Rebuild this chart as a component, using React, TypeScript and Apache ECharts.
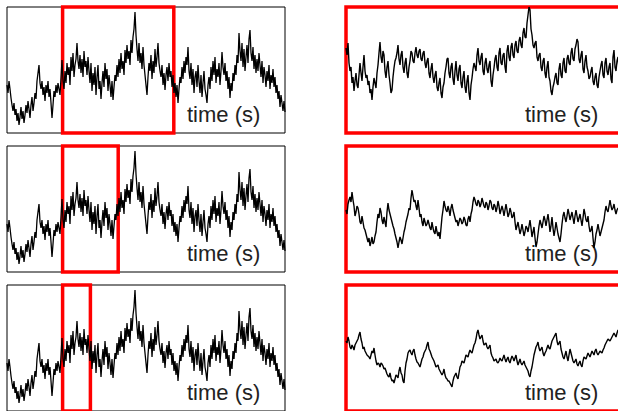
import React, { useEffect, useRef } from "react";
import * as echarts from "echarts";

// Full recording (shown in all three left panels)
const fullSignal = [
  48, 40, 52, 44, 35, 28, 22, 30, 18, 24,
  12, 20, 8, 16, 26, 14, 22, 10, 18, 28,
  20, 32, 24, 15, 28, 36, 22, 30, 40, 34,
  52, 60, 68, 50, 44, 52, 38, 46, 32, 48,
  40, 52, 36, 44, 30, 15, 28, 42, 36, 48,
  40, 50, 44, 38, 55, 73, 52, 44, 62, 50,
  70, 58, 66, 48, 76, 62, 80, 56, 68, 74,
  90, 72, 64, 78, 60, 74, 56, 82, 66, 72,
  58, 76, 62, 50, 70, 42, 60, 48, 66, 38,
  56, 68, 44, 52, 34, 50, 62, 46, 70, 54,
  64, 42, 58, 48, 36, 52, 33, 46, 58, 52,
  68, 56, 74, 60, 80, 64, 72, 58, 83, 70,
  88, 74, 82, 68, 93, 80, 96, 104, 121, 98,
  84, 72, 90, 70, 80, 64, 86, 68, 58, 48,
  38, 56, 70, 62, 78, 54, 72, 60, 84, 66,
  76, 90, 70, 62, 56, 68, 48, 60, 43, 58,
  66, 52, 70, 56, 62, 46, 58, 40, 50, 36,
  48, 30, 44, 56, 50, 66, 54, 72, 60, 76,
  68, 86, 62, 54, 70, 48, 64, 40, 56, 62,
  46, 68, 52, 40, 58, 36, 50, 62, 44, 38,
  30, 48, 56, 44, 66, 52, 72, 58, 76, 50,
  64, 56, 70, 48, 62, 81, 66, 58, 70, 52,
  62, 44, 56, 35, 50, 42, 60, 52, 68, 58,
  78, 70, 100, 82, 72, 90, 66, 84, 62, 76,
  88, 70, 94, 103, 80, 72, 86, 64, 78, 60,
  74, 62, 80, 68, 56, 72, 50, 66, 58, 46,
  62, 52, 68, 44, 58, 50, 64, 46, 56, 40,
  48, 34, 42, 26, 38, 30, 22, 32, 21,
];

// Zoomed views (right panels), sampled at higher resolution
const zoomSignal1 = [
  85, 78, 90, 70, 62, 66, 50, 56, 42, 52, 60, 48, 45, 58, 70, 60, 52, 66, 78, 62,
  55, 58, 48, 52, 40, 44, 33, 46, 55, 50, 45, 60, 68, 80, 91, 76, 70, 82, 78,
  62,
  55, 66, 72, 58, 50, 40, 43, 56, 65, 72, 75, 80, 88, 74, 68, 78, 82, 66, 60, 70,
  75, 60, 55, 66, 72, 82, 80, 72, 70, 80, 86, 78, 75, 82, 84, 74, 72, 80, 82,
  70,
  65, 72, 75, 60, 55, 64, 70, 56, 50, 58, 62, 46, 42, 50, 55, 40, 35, 46, 50, 60,
  66, 74, 75, 60, 55, 66, 70, 54, 48, 62, 72, 58, 52, 64, 68, 50, 45, 56, 62,
  46,
  40, 52, 58, 40, 33, 48, 55, 64, 70, 66, 62, 78, 85, 72, 68, 76, 80, 62, 58, 70,
  75, 64, 60, 68, 72, 52, 46, 58, 65, 74, 78, 66, 62, 80, 85, 70, 68, 78, 80,
  66,
  60, 82, 88, 76, 72, 86, 90, 78, 75, 88, 92, 82, 80, 92, 96, 88, 85, 100, 105, 96,
  95, 110, 118, 126, 123, 104, 98, 88, 85, 90, 92, 76, 72, 78, 80, 66, 62, 72, 75,
  60,
  55, 66, 72, 56, 52, 42, 38, 46, 50, 56, 60, 50, 48, 64, 70, 58, 55, 70, 75, 62,
  60, 74, 78, 70, 68, 80, 85, 74, 72, 84, 88, 94, 91, 74, 70, 78, 82, 64, 60,
  72,
  78, 66, 62, 54, 56, 62, 66, 52, 48, 56, 60, 48, 45, 56, 62, 68, 72, 58, 55, 70,
  75, 62, 58, 66, 70, 54, 50, 76, 83, 66, 62, 72, 76, 64, 60, 66, 70, 62, 65,
];

const zoomSignal2 = [
  62, 58, 68, 72, 75, 70, 80, 72, 66, 56, 60, 66, 64, 58, 50, 48, 56, 50, 44, 42,
  38, 34, 30, 34, 26, 30, 35, 28, 30, 36, 40, 50, 58, 54, 64, 60, 52, 48, 55,
  50,
  45, 60, 69, 62, 58, 54, 50, 46, 43, 38, 34, 30, 24, 30, 35, 32, 28, 34, 40, 44,
  50, 54, 58, 64, 62, 74, 82, 76, 70, 72, 66, 62, 72, 64, 55, 58, 50, 46, 54,
  50,
  46, 48, 52, 48, 44, 42, 50, 44, 40, 38, 46, 40, 36, 40, 33, 44, 55, 62, 71, 66,
  62, 60, 66, 62, 56, 64, 68, 62, 58, 54, 50, 52, 46, 50, 54, 52, 48, 50, 55,
  52,
  47, 46, 53, 56, 50, 58, 62, 70, 75, 72, 68, 66, 72, 70, 65, 68, 74, 70, 66, 64,
  70, 68, 62, 66, 72, 70, 64, 62, 68, 66, 60, 64, 71, 66, 58, 62, 66, 62, 56,
  62,
  68, 62, 55, 58, 64, 60, 54, 56, 60, 50, 42, 46, 50, 44, 38, 42, 48, 42, 36, 40,
  46, 44, 40, 46, 52, 44, 35, 40, 45, 34, 25, 30, 38, 46, 52, 48, 44, 50, 56,
  52,
  46, 52, 58, 50, 40, 46, 55, 44, 36, 42, 50, 44, 38, 34, 30, 38, 48, 56, 60, 54,
  50, 56, 63, 58, 52, 56, 60, 54, 48, 56, 62, 56, 50, 54, 58, 52, 46, 54, 63,
  58,
  52, 50, 56, 46, 40, 42, 46, 34, 24, 30, 38, 42, 48, 42, 36, 40, 44, 48, 52, 60,
  66, 62, 60, 66, 72, 66, 62, 64, 68, 62, 58, 62, 64, 62, 60, 64, 66, 64, 62,
];

const zoomSignal3 = [
  70, 68, 74, 70, 64, 62, 66, 64, 61, 66, 68, 70, 72, 76, 79, 72, 68, 62, 64, 60,
  58, 56, 55, 54, 52, 56, 60, 58, 63, 56, 50, 46, 48, 47, 44, 48, 47, 45, 42,
  43,
  40, 37, 35, 34, 38, 33, 30, 31, 28, 32, 36, 35, 33, 40, 44, 38, 36, 30, 28, 40,
  48, 52, 58, 60, 61, 58, 56, 60, 62, 56, 52, 49, 48, 46, 44, 48, 52, 54, 58,
  60,
  62, 66, 69, 62, 60, 57, 54, 52, 50, 47, 44, 45, 46, 42, 40, 38, 36, 38, 42, 36,
  33, 32, 30, 30, 28, 26, 24, 30, 34, 36, 38, 34, 32, 38, 44, 46, 50, 49, 48,
  52,
  56, 55, 54, 58, 61, 59, 58, 62, 66, 68, 72, 78, 81, 76, 72, 74, 76, 70, 66, 67,
  68, 64, 62, 64, 66, 58, 55, 53, 50, 51, 52, 49, 48, 50, 53, 51, 50, 53, 56,
  52,
  49, 52, 54, 50, 48, 52, 55, 53, 50, 53, 56, 50, 46, 49, 52, 48, 46, 48, 50, 46,
  44, 42, 40, 36, 34, 40, 44, 50, 56, 60, 64, 66, 69, 63, 60, 62, 64, 58, 55,
  58,
  60, 63, 66, 63, 62, 66, 70, 72, 74, 76, 78, 70, 66, 68, 70, 62, 58, 54, 52, 56,
  60, 54, 50, 56, 62, 58, 54, 50, 48, 50, 52, 47, 45, 48, 50, 46, 44, 50, 54,
  53,
  52, 55, 58, 56, 54, 57, 60, 58, 56, 60, 62, 58, 56, 58, 60, 59, 58, 61, 63, 66,
  68, 70, 72, 71, 70, 72, 74, 76, 78, 76, 74, 78, 81, 78, 76, 78, 80, 79, 78,
];

const totalDuration = 10; // seconds
const zoomWindows: [number, number][] = [
  [2, 6],
  [2, 4],
  [2, 3],
];
const zoomSignals = [zoomSignal1, zoomSignal2, zoomSignal3];
const axisName = "time (s)";

export default function App() {
  const ref = useRef<HTMLDivElement>(null);

  useEffect(() => {
    document.body.style.margin = "0";
    const chart = echarts.init(ref.current!, null, { renderer: "svg" });

    const panelTops = [7, 146, 285];
    const panelH = 126;
    const panelW = 278;
    const leftX = 7;
    const rightX = 346;
    const yMin = 0;
    const yMax = 126;

    const grid: any[] = [];
    const xAxis: any[] = [];
    const yAxis: any[] = [];
    const series: any[] = [];
    const graphic: any[] = [];

    const toPairs = (vals: number[], t0: number, span: number) =>
      vals.map((v, i) => [t0 + (i * span) / (vals.length - 1), v]);

    const textStyle = {
      text: axisName,
      font: '22px "Liberation Sans", Arial, sans-serif',
      fill: "#222",
      verticalAlign: "middle",
    };

    zoomWindows.forEach(([a, b], k) => {
      const top = panelTops[k];
      // left panel: full recording with highlighted window
      const li = grid.length;
      grid.push({ left: leftX, top, width: panelW, height: panelH, show: true, borderColor: "#000", borderWidth: 1 });
      xAxis.push({ type: "value", gridIndex: li, min: 0, max: totalDuration, show: false });
      yAxis.push({ type: "value", gridIndex: li, min: yMin, max: yMax, show: false });
      series.push({
        type: "line",
        xAxisIndex: li,
        yAxisIndex: li,
        data: toPairs(fullSignal, 0, totalDuration),
        symbol: "none",
        lineStyle: { color: "#000", width: 1.3 },
        markArea: {
          silent: true,
          itemStyle: { color: "rgba(0,0,0,0)", borderColor: "#ff0000", borderWidth: 3.5 },
          data: [[{ xAxis: a }, { xAxis: b }]],
        },
      });
      graphic.push({ type: "text", x: leftX + 180, y: top + 107, style: textStyle });

      // right panel: zoomed window
      const ri = grid.length;
      grid.push({ left: rightX, top, width: panelW, height: panelH, show: true, borderColor: "#555", borderWidth: 1 });
      xAxis.push({ type: "value", gridIndex: ri, min: a, max: b, show: false });
      yAxis.push({ type: "value", gridIndex: ri, min: yMin, max: yMax, show: false });
      series.push({
        type: "line",
        xAxisIndex: ri,
        yAxisIndex: ri,
        data: toPairs(zoomSignals[k], a, b - a),
        symbol: "none",
        lineStyle: { color: "#000", width: 1.4 },
        markArea: {
          silent: true,
          itemStyle: { color: "rgba(0,0,0,0)", borderColor: "#ff0000", borderWidth: 3.5 },
          data: [[{ xAxis: a }, { xAxis: b }]],
        },
      });
      graphic.push({ type: "text", x: rightX + 179, y: top + 107, style: textStyle });
    });

    chart.setOption({
      animation: false,
      backgroundColor: "#fff",
      grid,
      xAxis,
      yAxis,
      series,
      graphic,
    });

    return () => chart.dispose();
  }, []);

  return (
    <div
      ref={ref}
      style={{ position: "fixed", left: 0, top: 0, width: 640, height: 411 }}
    />
  );
}
